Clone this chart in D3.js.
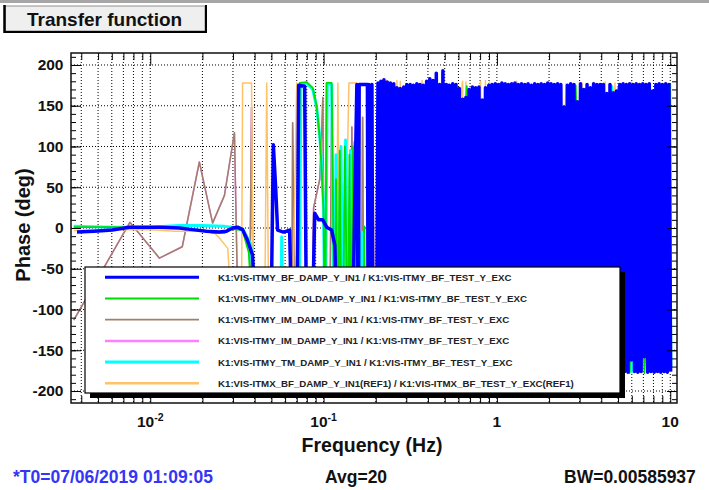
<!DOCTYPE html>
<html>
<head>
<meta charset="utf-8">
<script src="https://cdn.jsdelivr.net/npm/d3@7"></script>
<style>
  body { margin: 0; background: #fff; }
  svg { display: block; font-family: "Liberation Sans", Arial, Helvetica, sans-serif; }
</style>
</head>
<body>
<div id="chart"></div>
<script>
// ---------------- data ----------------
// frequency grid used above 0.2 Hz where the phase is pure noise
var hfFreq = [0.206, 0.209, 0.214, 0.218, 0.223, 0.228, 0.233, 0.238, 0.243, 0.249,
  0.254, 0.260, 0.265, 0.271, 0.277, 0.283, 0.290, 0.296, 0.302, 0.309,
  0.316, 0.323, 0.330, 0.337, 0.345, 0.352, 0.360, 0.368, 0.376, 0.384,
  0.393, 0.401, 0.410, 0.419, 0.428, 0.438, 0.447, 0.457, 0.467, 0.478,
  0.488, 0.499, 0.510, 0.521, 0.532, 0.544, 0.556, 0.568, 0.581, 0.594,
  0.607, 0.620, 0.634, 0.648, 0.662, 0.676, 0.691, 0.706, 0.722, 0.738,
  0.754, 0.771, 0.788, 0.805, 0.823, 0.841, 0.859, 0.878, 0.898, 0.917,
  0.937, 0.958, 0.979, 1.001, 1.023, 1.045, 1.068, 1.092, 1.116, 1.140,
  1.165, 1.191, 1.217, 1.244, 1.271, 1.299, 1.328, 1.357, 1.387, 1.417,
  1.448, 1.480, 1.513, 1.546, 1.580, 1.615, 1.651, 1.687, 1.724, 1.762,
  1.801, 1.840, 1.881, 1.922, 1.965, 2.008, 2.052, 2.097, 2.143, 2.190,
  2.239, 2.288, 2.338, 2.390, 2.442, 2.496, 2.551, 2.607, 2.664, 2.723,
  2.783, 2.844, 2.907, 2.971, 3.036, 3.103, 3.171, 3.241, 3.312, 3.385,
  3.459, 3.535, 3.613, 3.693, 3.774, 3.857, 3.942, 4.029, 4.117, 4.208,
  4.300, 4.395, 4.492, 4.590, 4.691, 4.795, 4.900, 5.008, 5.118, 5.231,
  5.346, 5.463, 5.584, 5.706, 5.832, 5.960, 6.092, 6.225, 6.362, 6.502,
  6.646, 6.792, 6.941, 7.094, 7.250, 7.409, 7.572, 7.739, 7.909, 8.083,
  8.261, 8.443, 8.628, 8.818, 9.012, 9.210, 9.413, 9.620, 9.832, 10.05];

// K1:VIS-ITMY_BF_DAMP_Y_IN1
var blueLoFreq = [0.00378, 0.00474, 0.00603, 0.00756, 0.0113, 0.0147, 0.0175, 0.0211, 0.0251, 0.0275,
  0.0298, 0.0319, 0.0341, 0.0364, 0.0389, 0.0410, 0.0439, 0.0494, 0.0513, 0.0529,
  0.0543, 0.0588, 0.0637, 0.0663, 0.0700, 0.0718, 0.0778, 0.0799, 0.0852, 0.0889,
  0.0937, 0.0989, 0.1042, 0.1113, 0.1161, 0.121, 0.1456,
  0.1556, 0.1587, 0.1605, 0.1790, 0.1810, 0.1826, 0.1863, 0.1901, 0.1926, 0.2018];
var blueLoPhase = [-5, -4, -2.5, 1, 1, 0, -2, -4, -5, -4,
  0, 1, -2, -15, -33, -120, -172, -168, 102, 50,
  -2.5, -5, -2.5, -170, -172, 175, 174, -170, -165, 18,
  10, 10, 1, -2.5, -21, -170, -172,
  176, -175, 176, 176, -175, 176, -174, 176, -176, -176];
var blueHfPhase = [178, -177, 180, -176, 182, -177, 179, -176, 178, -177,
  177, -176, 172, -177, 171, -176, 173, -177, 176, -176,
  176, -177, 175, -176, 177, -177, 176, -176, 175, -177,
  180, -176, 183, -177, 181, -176, 190, -177, 176, -176,
  193, -177, 176, -176, 175, -177, 177, -176, 176, -177,
  171, -176, 158, -177, 160, -176, 170, -177, 173, -176,
  172, -177, 173, -176, 157, -177, 172, -176, 175, -177,
  176, -176, 177, -177, 176, -176, 178, -177, 177, -176,
  176, -177, 177, -176, 178, -177, 176, -176, 177, -177,
  176, -176, 177, -177, 175, -176, 177, -177, 176, -176,
  177, -177, 176, -176, 178, -177, 177, -176, 176, -177,
  177, -176, 176, -177, 148, -176, 175, -177, 177, -176,
  176, -177, 155, -176, 177, -177, 170, -176, 176, -177,
  172, -176, 177, -177, 176, -176, 176, -177, 176, -176,
  165, -177, 176, -176, 166, -177, 168, -176, 176, -177,
  177, -176, 176, -177, 177, -162, 176, -176, 177, -177,
  176, -176, 177, -158, 176, -177, 177, -176, 168, -177,
  176, -176, 177, -177, 176, -176, 177, -177, 176, -176];

// K1:VIS-ITMY_MN_OLDAMP_Y_IN1
var greenFreq = [0.00362, 0.0060, 0.0100, 0.0150, 0.0200, 0.0229, 0.0268, 0.0298, 0.0341, 0.0370,
  0.0400, 0.0650, 0.0705, 0.0728, 0.0799, 0.0866, 0.0912, 0.0951, 0.0976, 0.1000,
  0.1020, 0.1040, 0.1113, 0.1161, 0.1180, 0.1210, 0.1240, 0.1270, 0.1290, 0.1327,
  0.1380, 0.1410, 0.1440, 0.1480, 0.1520, 0.1700, 0.1720, 0.1740, 0.2000, 0.320,
  0.400, 0.460, 0.550, 0.670, 0.800, 1.20, 1.60, 2.00, 2.41, 2.45,
  2.65, 2.85, 3.10, 3.90, 4.20, 5.00, 5.83, 6.50, 7.09, 8.50,
  9.30, 10.00, 10.10];
var greenPhase = [1, 1, 0, 0, -3, -6, -6, -1, -3, -30,
  -150, -160, -160, 178, 179, 172, 150, 110, 70, 20,
  -160, 178, 178, -165, 60, -160, 95, -160, -165, 100,
  -165, 90, -165, 100, -165, -170, 2, -170, -170, 172,
  -176, 176, -176, 174, -177, 176, -177, 175, -176, 150,
  -176, 175, -176, 175, -176, 172, -178, 173, -178, 174,
  -177, 176, -176];

// K1:VIS-ITMY_IM_DAMP_Y_IN1 (drawn twice, brown on top of magenta)
var brownFreq = [0.00362, 0.00763, 0.0113, 0.0153, 0.0192, 0.0229, 0.0268, 0.0306, 0.0325, 0.0372,
  0.0384, 0.0395, 0.0470, 0.0535, 0.0600, 0.0655, 0.0663, 0.0690, 0.0852, 0.0876,
  0.0951, 0.0976, 0.0990, 0.1016, 0.1080, 0.1117, 0.1140, 0.1419, 0.1456, 0.1490,
  0.1650, 0.1680, 0.1710, 0.1900, 0.1935, 0.1960, 0.276, 0.300, 0.350, 0.450,
  0.600, 0.900, 1.50, 3.00, 5.00, 8.00, 10.0];
var brownPhase = [-113, 7, -37, -23, 81, 6, 40, 117, -170, -165,
  148, -170, -120, -60, -140, -150, 129, -165, -170, 25,
  60, 120, 160, -170, -170, 165, -170, -165, 124, -170,
  -170, 136, -170, -170, 55, -170, 172, -176, 170, -176,
  168, -176, 170, -176, 170, -176, 170];

// K1:VIS-ITMY_TM_DAMP_Y_IN1
var cyanFreq = [0.00362, 0.0060, 0.0100, 0.0147, 0.0200, 0.0268, 0.0298, 0.0341, 0.0380, 0.0420,
  0.0565, 0.0573, 0.0590, 0.0720, 0.0740, 0.0799, 0.0866, 0.0912, 0.0951, 0.0976,
  0.1000, 0.1020, 0.1050, 0.1113, 0.1150, 0.1180, 0.1210, 0.1260, 0.1300, 0.1340,
  0.1390, 0.1430, 0.1470, 0.1510, 0.1550, 0.1630, 0.1660, 0.1700, 0.250, 0.316,
  0.420, 0.520, 0.700, 1.50, 1.90, 2.00, 3.20, 4.59, 6.00, 9.90,
  10.08];
var cyanPhase = [2, 1, 1, 3, 3, 2, 1, -1, -20, -150,
  -160, -11, -160, -165, 176, 178, 170, 148, 112, 75,
  25, -165, 177, 176, -165, 90, -165, 100, -165, 108,
  -165, 95, -165, 105, -165, -170, -5, -170, -176, 170,
  -176, 176, -176, 174, -176, 176, -176, 174, -176, 172,
  -170];

// K1:VIS-ITMX_BF_DAMP_Y_IN1(REF1)
var orangeFreq = [0.00362, 0.0060, 0.0100, 0.0140, 0.0192, 0.0229, 0.0250, 0.0280, 0.0310, 0.0335,
  0.0341, 0.0384, 0.0395, 0.0455, 0.0470, 0.0485, 0.0655, 0.0700, 0.0715, 0.1180,
  0.1210, 0.1240, 0.1300, 0.1400, 0.1556, 0.1580, 0.1880, 0.209, 0.230, 0.250,
  0.265, 0.271, 0.277, 0.300, 0.370, 0.400, 0.634, 0.648, 0.662, 0.700,
  0.805, 0.830, 0.859, 0.880, 0.905, 1.00, 1.30, 1.60, 2.00, 2.30,
  2.50, 2.70, 3.10, 3.50, 4.21, 4.35, 4.80, 5.30, 6.00, 6.90,
  7.57, 8.50, 9.50, 10.0];
var orangePhase = [-3, -2, -2, -4, -4, -4, -12, -25, -170, -170,
  178, 178, -170, -170, 178, -170, -170, 178, -170, -170,
  178, -170, -170, 178, 178, -170, -170, -176, 181, -176,
  181, -176, 180, -176, 181, -176, 180, -176, 179, -176,
  180, -176, 181, -176, 179, -176, 180, -176, 179, -176,
  177, -176, 178, -176, 179, -176, 178, -176, 179, -177,
  178, -177, 178, -177];

var legendLabels = [
  "K1:VIS-ITMY_BF_DAMP_Y_IN1 / K1:VIS-ITMY_BF_TEST_Y_EXC",
  "K1:VIS-ITMY_MN_OLDAMP_Y_IN1 / K1:VIS-ITMY_BF_TEST_Y_EXC",
  "K1:VIS-ITMY_IM_DAMP_Y_IN1 / K1:VIS-ITMY_BF_TEST_Y_EXC",
  "K1:VIS-ITMY_IM_DAMP_Y_IN1 / K1:VIS-ITMY_BF_TEST_Y_EXC",
  "K1:VIS-ITMY_TM_DAMP_Y_IN1 / K1:VIS-ITMY_BF_TEST_Y_EXC",
  "K1:VIS-ITMX_BF_DAMP_Y_IN1(REF1) / K1:VIS-ITMX_BF_TEST_Y_EXC(REF1)"
];
var yMajorTicks = [-200, -150, -100, -50, 0, 50, 100, 150, 200];
var xDecades = [0.01, 0.1, 1, 10];
var xDecadeLabels = [["10", "-2"], ["10", "-1"], ["1", ""], ["10", ""]];

// ---------------- boilerplate ----------------
var W = 709, H = 490;
var frame = { left: 71, top: 53, right: 677, bottom: 403 },
    width = frame.right - frame.left,
    height = frame.bottom - frame.top;

var svg = d3.select("#chart")
            .append("svg")
            .attr("width", W)
            .attr("height", H);

// grey strip across the top of the canvas
svg.append("rect").attr("x", 0).attr("y", 0).attr("width", W).attr("height", 3).attr("fill", "#a6a6a6");

// title box
svg.append("rect").attr("x", 5).attr("y", 6).attr("width", 200).attr("height", 25)
   .attr("fill", "#efefef").attr("stroke", "#777").attr("stroke-width", 0.8);
svg.append("line").attr("x1", 4.5).attr("x2", 4.5).attr("y1", 5).attr("y2", 33)
   .attr("stroke", "#000").attr("stroke-width", 2.5);
svg.append("line").attr("x1", 4).attr("x2", 207).attr("y1", 32).attr("y2", 32)
   .attr("stroke", "#000").attr("stroke-width", 2);
svg.append("line").attr("x1", 206).attr("x2", 206).attr("y1", 5).attr("y2", 33)
   .attr("stroke", "#000").attr("stroke-width", 2);
svg.append("text").attr("x", 27).attr("y", 26)
   .attr("font-size", 19).attr("font-weight", "bold").attr("fill", "#111")
   .text("Transfer function");

// scales
var x = d3.scaleLog().domain([0.00349, 10.94]).range([0, width]);
var y = d3.scaleLinear().domain([-214.7, 214.7]).range([height, 0]);

var g = svg.append("g").attr("transform", "translate(" + frame.left + "," + frame.top + ")");
g.append("rect").attr("width", width).attr("height", height).attr("fill", "#fff");

// tick values for the log axis: 2..9 x 10^n inside the domain
var xMinor = [];
for (var e = -3; e <= 1; e++) {
  for (var k = 2; k <= 9; k++) {
    var v = +(k * Math.pow(10, e)).toPrecision(3);
    if (v >= x.domain()[0] && v <= x.domain()[1]) xMinor.push(v);
  }
}
var xAll = xMinor.concat(xDecades);
var yMinor = d3.range(-210, 211, 10);

// dotted grid
g.selectAll(".vgrid").data(xAll).enter().append("line")
 .attr("class", "vgrid")
 .attr("x1", function(d) { return x(d); }).attr("x2", function(d) { return x(d); })
 .attr("y1", 0).attr("y2", height)
 .attr("stroke", "#000").attr("stroke-width", 1).attr("stroke-dasharray", "1,2");
g.selectAll(".hgrid").data(yMajorTicks).enter().append("line")
 .attr("class", "hgrid")
 .attr("x1", 0).attr("x2", width)
 .attr("y1", function(d) { return y(d); }).attr("y2", function(d) { return y(d); })
 .attr("stroke", "#000").attr("stroke-width", 1).attr("stroke-dasharray", "1,2");

// traces
var series = [
  { f: brownFreq,  p: brownPhase,  color: "#ff80ff", w: 1.5 },
  { f: brownFreq,  p: brownPhase,  color: "#a0806c", w: 1.5 },
  { f: orangeFreq, p: orangePhase, color: "#ffc266", w: 1.5 },
  { f: cyanFreq,   p: cyanPhase,   color: "#00ffff", w: 3 },
  { f: greenFreq,  p: greenPhase,  color: "#00dd00", w: 1.8 },
  { f: blueLoFreq.concat(hfFreq), p: blueLoPhase.concat(blueHfPhase), color: "#0000ff", w: 3.5 }
];

svg.append("defs").append("clipPath").attr("id", "plotclip")
   .append("rect").attr("width", width).attr("height", height);

var line = d3.line()
             .x(function(d) { return x(d[0]); })
             .y(function(d) { return y(d[1]); });

g.append("g").attr("clip-path", "url(#plotclip)")
 .selectAll("path")
 .data(series)
 .enter()
 .append("path")
 .attr("d", function(s) { return line(d3.zip(s.f, s.p)); })
 .attr("fill", "none")
 .attr("stroke", function(s) { return s.color; })
 .attr("stroke-width", function(s) { return s.w; })
 .attr("stroke-linejoin", "round");

// axes (ticks point inward on all four sides)
function styleAxis(sel) {
  sel.select(".domain").remove();
  sel.selectAll(".tick line").attr("stroke", "#000").attr("stroke-width", 1);
}
g.append("g").attr("transform", "translate(0," + height + ")")
 .call(d3.axisBottom(x).tickValues(xMinor).tickSize(-7).tickFormat("")).call(styleAxis);
g.append("g").attr("transform", "translate(0," + height + ")")
 .call(d3.axisBottom(x).tickValues(xDecades).tickSize(-12).tickFormat("")).call(styleAxis);
g.append("g")
 .call(d3.axisTop(x).tickValues(xMinor).tickSize(-7).tickFormat("")).call(styleAxis);
g.append("g")
 .call(d3.axisTop(x).tickValues(xDecades).tickSize(-12).tickFormat("")).call(styleAxis);

g.append("g").call(d3.axisLeft(y).tickValues(yMinor).tickSize(-5).tickFormat("")).call(styleAxis);
g.append("g").attr("transform", "translate(" + width + ",0)")
 .call(d3.axisRight(y).tickValues(yMinor).tickSize(-5).tickFormat("")).call(styleAxis);
g.append("g").attr("transform", "translate(" + width + ",0)")
 .call(d3.axisRight(y).tickValues(yMajorTicks).tickSize(-10).tickFormat("")).call(styleAxis);

var yAxis = g.append("g")
             .call(d3.axisLeft(y).tickValues(yMajorTicks).tickSize(-10).tickPadding(7.5)
                     .tickFormat(function(d) { return String(d); }))
             .call(styleAxis);
yAxis.attr("font-family", null).attr("font-size", null);
yAxis.selectAll("text")
     .attr("font-size", 15.5).attr("font-weight", "bold").attr("fill", "#111");

// frame
g.append("rect").attr("width", width).attr("height", height)
 .attr("fill", "none").attr("stroke", "#111").attr("stroke-width", 1.5);

// x tick labels, 10^n style
var xl = g.selectAll(".xlab").data(xDecades).enter().append("text")
          .attr("class", "xlab")
          .attr("x", function(d) { return x(d); })
          .attr("y", height + 24)
          .attr("text-anchor", "middle")
          .attr("font-size", 15.5).attr("font-weight", "bold").attr("fill", "#111");
xl.append("tspan").text(function(d, i) { return xDecadeLabels[i][0]; });
xl.append("tspan").attr("dy", -6).attr("font-size", 10.5)
  .text(function(d, i) { return xDecadeLabels[i][1]; });

// axis titles
svg.append("text").attr("transform", "translate(30,225) rotate(-90)")
   .attr("text-anchor", "middle").attr("font-size", 20).attr("font-weight", "bold").attr("fill", "#111")
   .text("Phase (deg)");
svg.append("text").attr("x", 372).attr("y", 452)
   .attr("text-anchor", "middle").attr("font-size", 19.5).attr("font-weight", "bold").attr("fill", "#111")
   .text("Frequency (Hz)");

// footer
svg.append("text").attr("x", 13).attr("y", 483)
   .attr("font-size", 17.5).attr("font-weight", "bold").attr("fill", "#3535f5")
   .text("*T0=07/06/2019 01:09:05");
svg.append("text").attr("x", 325).attr("y", 483)
   .attr("font-size", 17.5).attr("font-weight", "bold").attr("fill", "#111")
   .text("Avg=20");
svg.append("text").attr("x", 564).attr("y", 483)
   .attr("font-size", 17.5).attr("font-weight", "bold").attr("fill", "#111")
   .text("BW=0.00585937");

// legend
var legendColors = ["#0000ff", "#00dd00", "#a0806c", "#ff80ff", "#00ffff", "#ffc266"];
var legendWidths = [3, 2, 1.8, 2.5, 3, 2.5];
var lg = svg.append("g");
lg.append("rect").attr("x", 90).attr("y", 272).attr("width", 535).attr("height", 126).attr("fill", "#000");
lg.append("rect").attr("x", 85).attr("y", 267).attr("width", 535).attr("height", 126)
  .attr("fill", "#fff").attr("stroke", "#000").attr("stroke-width", 1.2);

var rows = lg.selectAll(".row").data(legendLabels).enter().append("g")
             .attr("class", "row")
             .attr("transform", function(d, i) { return "translate(0," + (277.3 + i * 21.2) + ")"; });
rows.append("line").attr("x1", 105).attr("x2", 199)
    .attr("stroke", function(d, i) { return legendColors[i]; })
    .attr("stroke-width", function(d, i) { return legendWidths[i]; });
rows.append("text").attr("x", 218).attr("y", 3.5)
    .attr("font-size", 9.7).attr("font-weight", "bold").attr("fill", "#222")
    .text(function(d) { return d; });
</script>
</body>
</html>
